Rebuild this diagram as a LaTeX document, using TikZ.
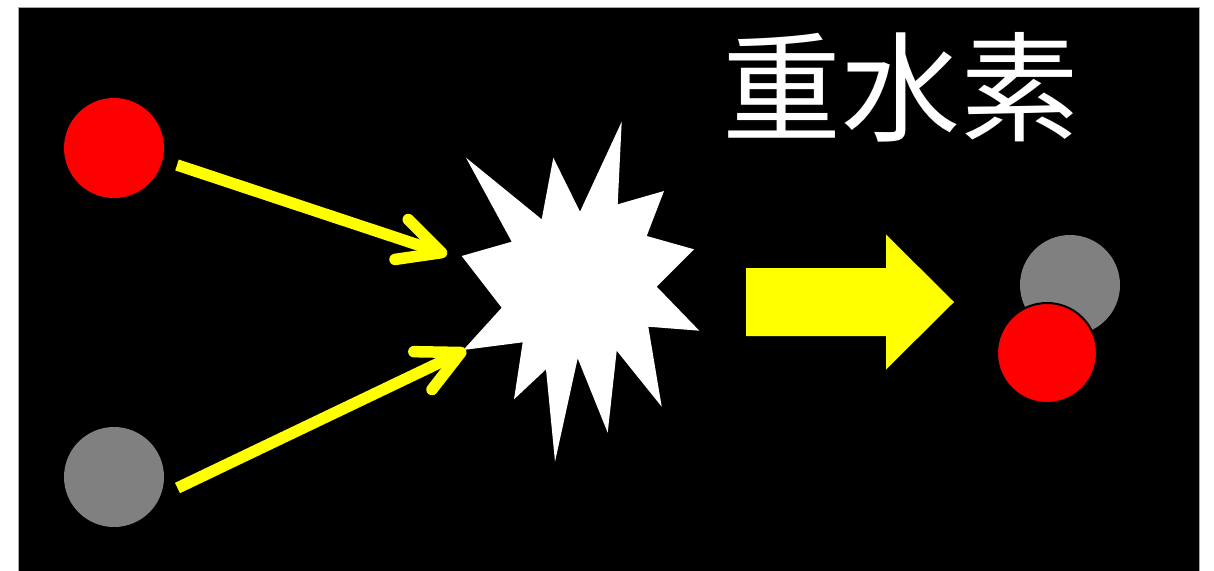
\documentclass[tikz,border=0pt]{standalone}
\usepackage{fontspec}
\newfontfamily\cjk{Noto Sans CJK JP}
\usetikzlibrary{arrows.meta}
\definecolor{ygreen}{RGB}{255,255,0}
\definecolor{atomgray}{RGB}{128,128,128}
\definecolor{atomred}{RGB}{255,0,0}
\tikzset{
  atom/.style={circle, minimum size=100pt, inner sep=0pt},
  yarrow/.style={draw=ygreen, line width=11.5pt,
    -{Straight Barb[length=42pt, width=42pt, line cap=round, line join=round]}},
}
\begin{document}
\begin{tikzpicture}[x=1pt, y=-1pt]
\useasboundingbox (0,0) rectangle (1214,570);
\fill[white] (0,0) rectangle (1214,570);
\filldraw[fill=black, draw=atomgray!70, line width=0.8pt] (18,7.5) rectangle (1199.5,575);

% title
\node[text=white, inner sep=0pt, font=\cjk\fontsize{119}{119}\selectfont] (title) at (901,87) {重水素};

% atoms on the left
\node[atom, fill=atomred] (h1) at (114,148) {};
\node[atom, fill=atomgray] (h2) at (114,477) {};

% explosion
\fill[white] (621.7,121.7) -- (617.7,204.3) -- (664,191) -- (646.7,236) -- (694,249.3)
  -- (656.7,286.7) -- (699.3,330.7) -- (648.3,326.7) -- (661.7,406.7) -- (616.7,350.7)
  -- (607.7,432.7) -- (577.7,358.3) -- (555,461.7) -- (546,369.3) -- (514,399.3)
  -- (522.7,342.3) -- (463.3,350) -- (501.7,307.7) -- (461.7,256) -- (511.7,241.7)
  -- (466,157.7) -- (541.7,219.3) -- (553.3,157.7) -- (580,211.7) -- cycle;

% connectors
\coordinate (s1) at (177,165);
\coordinate (t1) at (447,254.5);
\coordinate (s2) at (177.5,488);
\coordinate (t2) at (466,350);
\draw[yarrow] (s1) -- (t1);
\draw[yarrow] (s2) -- (t2);

% block arrow
\fill[ygreen] (746,268) -- (886,268) -- (886,234.5) -- (954,302) -- (886,369.5)
  -- (886,336) -- (746,336) -- cycle;

% product molecule
\node[atom, fill=atomgray] (d1) at (1070,285) {};
\node[atom, fill=atomred, draw=black, line width=2pt] (d2) at (1047,353) {};
\end{tikzpicture}
\end{document}
